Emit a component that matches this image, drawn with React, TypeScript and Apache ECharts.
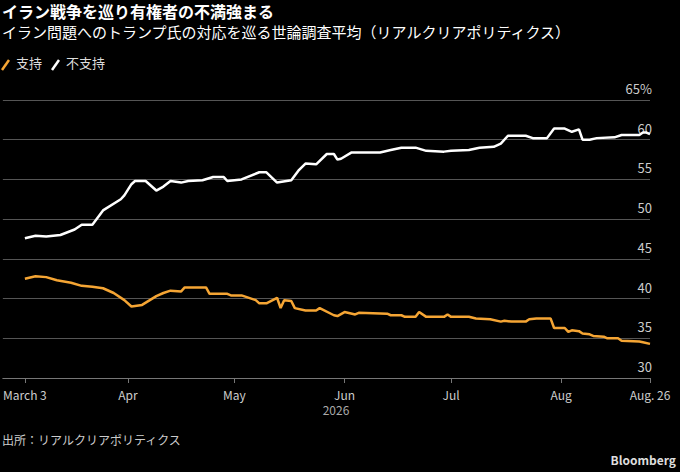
import { useEffect, useRef } from 'react'
import * as echarts from 'echarts'

// days counted from March 3, 2026
const disapproveDays = [0, 3, 6, 10, 14, 16, 19, 22, 27, 28, 30, 31, 34, 37, 39, 41, 44, 46, 50, 53, 56, 57, 61, 66, 68, 71, 75, 77, 79, 82, 85, 87, 88, 89, 92, 100, 103, 106, 110, 113, 118, 120, 125, 128, 132, 134, 136, 141, 143, 147, 149, 152, 154, 156, 157, 159, 161, 166, 168, 173, 174, 175, 176]
const disapprove = [47.6, 47.9, 47.8, 48.0, 48.7, 49.3, 49.3, 51.1, 52.5, 53.0, 54.4, 54.8, 54.8, 53.6, 54.1, 54.8, 54.6, 54.8, 54.9, 55.3, 55.3, 54.8, 55.0, 55.9, 55.9, 54.6, 54.9, 56.1, 57.0, 56.9, 58.2, 58.2, 57.5, 57.6, 58.4, 58.4, 58.7, 59.0, 59.0, 58.6, 58.5, 58.6, 58.7, 59.0, 59.1, 59.5, 60.5, 60.5, 60.2, 60.2, 61.4, 61.4, 61.0, 61.3, 60.0, 60.0, 60.2, 60.3, 60.6, 60.6, 60.9, 60.9, 60.7]
const approveDays = [0, 3, 6, 9, 13, 16, 19, 22, 25, 28, 30, 33, 37, 39, 41, 44, 45, 51, 52, 57, 58, 61, 65, 66, 68, 71, 72, 73, 75, 76, 79, 82, 83, 87, 88, 90, 93, 94, 102, 103, 106, 107, 110, 111, 113, 118, 119, 120, 125, 127, 131, 134, 135, 137, 141, 142, 144, 148, 149, 152, 153, 154, 156, 157, 159, 160, 163, 164, 167, 168, 173, 174, 176]
const approve = [42.5, 42.8, 42.7, 42.3, 42.0, 41.6, 41.5, 41.3, 40.7, 39.8, 39.0, 39.2, 40.3, 40.7, 41.0, 40.9, 41.4, 41.4, 40.6, 40.6, 40.4, 40.4, 39.8, 39.4, 39.4, 40.1, 38.8, 39.8, 39.7, 38.8, 38.5, 38.5, 38.8, 37.9, 37.8, 38.3, 38.0, 38.2, 38.1, 37.9, 37.9, 37.7, 37.7, 38.3, 37.7, 37.7, 38.0, 37.7, 37.7, 37.5, 37.4, 37.1, 37.2, 37.1, 37.1, 37.4, 37.5, 37.5, 36.3, 36.3, 35.8, 36.0, 35.9, 35.6, 35.5, 35.3, 35.2, 35.0, 35.0, 34.7, 34.6, 34.5, 34.3]
const tickDays = [0, 29, 59, 90, 120, 151, 176]
const tickLabels = ['March 3', 'Apr', 'May', 'Jun', 'Jul', 'Aug', 'Aug. 26']
const yTicks = [30, 35, 40, 45, 50, 55, 60, 65]

const FONT = '"Noto Sans CJK JP", "Noto Sans", sans-serif'
const ORANGE = '#f5a534'

export default function App() {
  const ref = useRef<HTMLDivElement>(null)

  useEffect(() => {
    if (!ref.current) return
    const chart = echarts.init(ref.current, null, { renderer: 'svg' })
    chart.setOption({
      animation: false,
      backgroundColor: '#000',
      textStyle: { fontFamily: FONT },
      grid: { left: 0, right: 30, top: 100, bottom: 94 },
      xAxis: {
        type: 'value',
        min: -6.2,
        max: 176,
        splitLine: { show: false },
        axisLine: { show: true, lineStyle: { color: '#777' } },
        axisTick: { show: true, customValues: tickDays, length: 5, lineStyle: { color: '#777' } },
        axisLabel: {
          customValues: tickDays,
          color: '#ccc',
          fontSize: 12,
          margin: 10,
          formatter: (v: number) => tickLabels[tickDays.indexOf(v)] ?? '',
        },
      },
      yAxis: {
        type: 'value',
        position: 'right',
        min: 30,
        max: 65,
        interval: 5,
        splitLine: { lineStyle: { color: '#555', width: 1 } },
        axisLine: { show: false },
        axisTick: { show: false },
        axisLabel: {
          inside: true,
          margin: -2,
          align: 'right',
          verticalAlign: 'bottom',
          color: '#ccc',
          fontSize: 13,
          padding: [0, 0, 5, 0],
          formatter: (v: number) => (yTicks.includes(v) ? (v === 65 ? v + '%' : String(v)) : ''),
        },
      },
      series: [
        {
          name: '不支持',
          type: 'line',
          symbol: 'none',
          data: disapproveDays.map((d, i) => [d, disapprove[i]]),
          lineStyle: { color: '#fff', width: 2.5 },
        },
        {
          name: '支持',
          type: 'line',
          symbol: 'none',
          data: approveDays.map((d, i) => [d, approve[i]]),
          lineStyle: { color: ORANGE, width: 2.5 },
        },
      ],
      graphic: [
        { type: 'text', left: 2, top: 3, style: { text: 'イラン戦争を巡り有権者の不満強まる', fill: '#fff', font: `bold 16px ${FONT}` } },
        { type: 'text', left: 2, top: 24, style: { text: 'イラン問題へのトランプ氏の対応を巡る世論調査平均（リアルクリアポリティクス）', fill: '#fff', font: `15px ${FONT}` } },
        { type: 'line', shape: { x1: 2, y1: 70, x2: 9, y2: 60 }, style: { stroke: ORANGE, lineWidth: 2.5 } },
        { type: 'text', left: 16, top: 56, style: { text: '支持', fill: '#ddd', font: `13px ${FONT}` } },
        { type: 'line', shape: { x1: 52, y1: 70, x2: 59, y2: 60 }, style: { stroke: '#fff', lineWidth: 2.5 } },
        { type: 'text', left: 66, top: 56, style: { text: '不支持', fill: '#ddd', font: `13px ${FONT}` } },
        { type: 'text', x: 336, y: 403, style: { text: '2026', fill: '#aaa', font: `12px ${FONT}`, align: 'center' } },
        { type: 'text', left: 2, top: 433, style: { text: '出所：リアルクリアポリティクス', fill: '#ccc', font: `12px ${FONT}` } },
        { type: 'text', right: 4, top: 453, style: { text: 'Bloomberg', fill: '#ddd', font: `bold 12px ${FONT}` } },
      ],
    })
    return () => chart.dispose()
  }, [])

  return <div ref={ref} style={{ position: 'absolute', left: 0, top: 0, width: 680, height: 472 }} />
}
